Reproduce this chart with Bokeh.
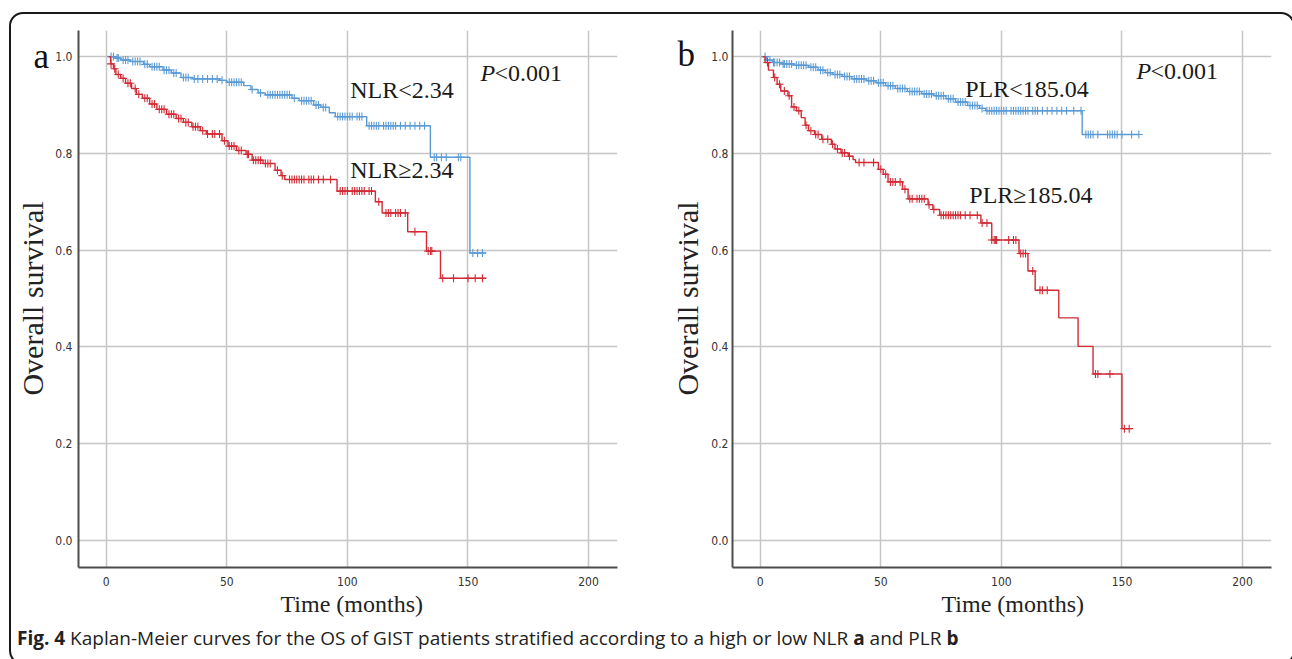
import numpy as np
from bokeh.plotting import figure
from bokeh.models import FixedTicker, PrintfTickFormatter, Title, Div, Range1d
from bokeh.layouts import row, column
from bokeh.core.properties import value
from bokeh.embed import file_html
from bokeh.resources import INLINE

# ---------------- data ----------------
x_ticks = [0, 50, 100, 150, 200]
y_ticks = [0.0, 0.2, 0.4, 0.6, 0.8, 1.0]

# Panel a : NLR
nlr_low_t = [1, 4, 6, 10, 15.5, 18, 23.5, 27, 31, 36, 47, 50, 57, 60, 63, 66, 77, 80, 86, 89, 92.5, 95, 108, 134.4, 150.8]
nlr_low_s = [1.0, 0.997, 0.993, 0.990, 0.984, 0.979, 0.972, 0.966, 0.957, 0.954, 0.951, 0.947, 0.940, 0.932, 0.925,
             0.921, 0.914, 0.909, 0.900, 0.895, 0.884, 0.876, 0.857, 0.792, 0.594]
nlr_low_end = 157.5
nlr_low_cens = [2, 3, 4.5, 5, 7, 8, 9, 11, 12, 13, 14, 16, 17, 19, 20, 21, 22, 24, 25, 26, 28, 29, 32, 33, 34, 36.5, 38,
                40, 42, 44, 46, 48, 51, 52, 53, 54, 55, 56, 60.5, 64, 67, 68, 69, 70, 71, 72, 73, 74, 75, 76, 78, 81, 82,
                83, 84, 85, 87, 88, 90, 91, 96, 97, 98, 99, 100, 101, 102, 104, 105, 106, 109, 110, 111, 112, 113, 115,
                116, 117, 118, 119, 120, 122, 124, 126, 128, 130, 132, 136, 137, 139, 141, 146, 147, 152, 154, 156]

nlr_high_t = [1, 1.8, 3, 4, 6, 8, 10.5, 12.5, 15, 18, 21, 25, 29, 32, 35.5, 39, 41.5, 48, 50.5, 54, 58, 60.5, 65, 70,
              72.5, 74, 95.7, 111.6, 114.4, 125, 132.8, 138.6]
nlr_high_s = [1.0, 0.985, 0.975, 0.963, 0.955, 0.945, 0.934, 0.922, 0.914, 0.902, 0.891, 0.881, 0.872, 0.864, 0.855,
              0.847, 0.840, 0.826, 0.815, 0.806, 0.798, 0.786, 0.779, 0.765, 0.754, 0.746, 0.722, 0.700, 0.677, 0.638,
              0.598, 0.542]
nlr_high_end = 157.5
nlr_high_cens = [2, 3.5, 5, 7, 9, 10, 12, 13.5, 16, 17, 19, 20, 22, 23, 24, 26, 27, 28, 30, 31, 33, 34, 36, 37, 38, 40,
                 42, 44, 45, 47, 49, 51, 52, 53, 55, 56, 58.5, 59, 61, 62, 63, 64, 66, 67, 68, 71, 73, 76, 77, 78, 79,
                 80, 81, 82, 84, 85, 86, 88, 90, 93, 97, 98, 99, 100, 102, 103, 104, 105, 106, 107, 109, 110, 113, 116,
                 117, 118, 120, 121, 122, 124, 128, 133.5, 134.5, 135, 139.5, 144, 150, 153, 156]

# Panel b : PLR
plr_low_t = [1, 2.5, 5, 9, 14, 20, 24, 27, 30, 34, 38, 44, 48, 52, 56, 61, 67, 72, 77, 81, 86, 91, 93.5, 133.5]
plr_low_s = [1.0, 0.993, 0.988, 0.985, 0.982, 0.978, 0.972, 0.967, 0.963, 0.959, 0.954, 0.950, 0.946, 0.940, 0.934,
             0.928, 0.923, 0.919, 0.913, 0.906, 0.899, 0.893, 0.888, 0.839]
plr_low_end = 157
plr_low_cens = [2, 3, 4, 5.5, 6, 7, 8, 9.5, 10, 11, 12, 13, 15, 16, 17, 18, 19, 21, 22, 23, 25, 26, 28, 29, 31, 32, 33,
                35, 36, 37, 39, 40, 41, 42, 43, 45, 46, 47, 49, 50, 51, 53, 54, 55, 57, 58, 59, 60, 62, 63, 64, 65, 66,
                68, 69, 70, 71, 73, 74, 75, 76, 78, 79, 80, 82, 83, 84, 85, 87, 88, 89, 90, 92, 94, 95, 96, 97, 98, 99,
                100, 101, 102, 104, 105, 106, 107, 108, 109, 110, 111, 113, 114, 115, 117, 119, 121, 123, 125, 127, 130,
                133, 135, 136, 137, 138, 140, 144, 145, 146, 147, 148, 150, 154, 157]

plr_high_t = [1, 2, 3.4, 5.5, 7, 8.5, 11.5, 13, 15, 17, 18.6, 20, 22.5, 25.5, 29.5, 31, 33.5, 36.5, 38.5, 39.5, 49, 51,
              53, 59, 61.3, 69.6, 71.6, 74.4, 91.5, 96, 107.3, 111, 114, 123.8, 131.8, 138, 150]
plr_high_s = [1.0, 0.988, 0.972, 0.957, 0.943, 0.929, 0.919, 0.896, 0.888, 0.874, 0.858, 0.847, 0.839, 0.829, 0.819,
              0.809, 0.801, 0.794, 0.787, 0.781, 0.767, 0.757, 0.741, 0.726, 0.706, 0.694, 0.684, 0.672, 0.656, 0.621,
              0.593, 0.557, 0.517, 0.460, 0.401, 0.344, 0.231]
plr_high_end = 154
plr_high_cens = [3, 6, 8, 10, 12, 14, 16, 19, 21, 23, 24, 26, 28, 30, 32, 34, 35, 37, 41, 43, 47, 50, 52, 54, 55, 56, 58,
                 60, 62, 63, 65, 66, 67, 68, 70, 72, 75, 76, 77, 78, 79, 80, 81, 82, 83, 85, 87, 90, 92, 94, 96, 97,
                 97.5, 98, 103, 105, 106, 108, 109, 110, 113, 116, 117, 119, 139, 140, 145, 151, 153]

BLUE = "#5b9bd5"
RED = "#d22b36"
SERIF = "'Liberation Serif', 'Times New Roman', serif"
NARROW = "'Liberation Sans Narrow', 'Arial Narrow', 'DejaVu Sans Condensed', sans-serif"
FIG_H = 609
Y_RANGE = (-0.056, 1.054)
X_RANGE = (-11.5, 212)
BORDER_TOP, BORDER_BOTTOM = 16, 56


def step_value(t_arr, s_arr, t):
    idx = np.searchsorted(np.asarray(t_arr), t, side="right") - 1
    return np.asarray(s_arr)[np.clip(idx, 0, len(s_arr) - 1)]


def add_curve(p, t_arr, s_arr, t_end, cens, color):
    xs = list(t_arr) + [t_end]
    ys = list(s_arr) + [s_arr[-1]]
    p.step(xs, ys, mode="after", line_color=color, line_width=1.4)
    cy = step_value(t_arr, s_arr, np.asarray(cens))
    p.scatter(cens, cy, marker="cross", size=8, line_color=color, line_width=1.1)


def make_side(width, letter, letter_x, letter_y, label_x):
    """Narrow strip (same vertical scale as the panel) holding the panel letter and the y-axis title."""
    s = figure(width=width, height=FIG_H, output_backend="svg", toolbar_location=None,
               x_range=Range1d(0, width), y_range=Range1d(*Y_RANGE),
               x_axis_location=None, y_axis_location=None,
               min_border_left=0, min_border_right=0,
               min_border_top=BORDER_TOP, min_border_bottom=BORDER_BOTTOM)
    s.grid.visible = False
    s.outline_line_color = None
    s.background_fill_color = None
    s.border_fill_color = None
    s.text(x=[letter_x], y=[letter_y], text=[letter], text_font=value(SERIF), text_font_size="35px",
           text_color="#111111", text_baseline="alphabetic", text_align="left")
    s.text(x=[label_x], y=[0.5], text=["Overall survival"], angle=np.pi / 2, text_font=value(SERIF),
           text_font_size="30px", text_color="#222222", text_baseline="middle", text_align="center")
    return s


def make_panel(width, border_right, tick_standoff, title_offset):
    p = figure(width=width, height=FIG_H, output_backend="svg", toolbar_location=None,
               x_range=Range1d(*X_RANGE), y_range=Range1d(*Y_RANGE),
               min_border_left=27, min_border_right=border_right,
               min_border_top=BORDER_TOP, min_border_bottom=BORDER_BOTTOM)
    p.outline_line_color = None
    p.background_fill_color = "white"
    p.border_fill_color = None
    p.xaxis.ticker = FixedTicker(ticks=x_ticks)
    p.yaxis.ticker = FixedTicker(ticks=y_ticks)
    p.xgrid.ticker = FixedTicker(ticks=x_ticks)
    p.ygrid.ticker = FixedTicker(ticks=y_ticks)
    p.yaxis.formatter = PrintfTickFormatter(format="%.1f")
    p.grid.grid_line_color = "#c6c6c6"
    p.grid.grid_line_width = 1.5
    for ax in (p.xaxis, p.yaxis):
        ax.axis_line_color = "#4d4d4d"
        ax.axis_line_width = 2
        ax.major_tick_line_color = None
        ax.minor_tick_line_color = None
        ax.major_tick_out = 0
        ax.major_tick_in = 0
        ax.major_label_text_font = NARROW
        ax.major_label_text_font_size = "12px"
        ax.major_label_text_color = "#333333"
    p.xaxis.major_label_standoff = 9
    p.yaxis.major_label_standoff = tick_standoff
    p.add_layout(Title(text="Time (months)", align="left", offset=title_offset, text_font=SERIF,
                       text_font_size="24px", text_font_style="normal", text_color="#222222",
                       standoff=0), "below")
    return p


txt = dict(text_font=value(SERIF), text_font_size="24px", text_color="#1a1a1a", text_baseline="middle")

side_a = make_side(40, "a", 22, 1.0, 21)
pa = make_panel(589, 23, 6, 202)
add_curve(pa, nlr_low_t, nlr_low_s, nlr_low_end, nlr_low_cens, BLUE)
add_curve(pa, nlr_high_t, nlr_high_s, nlr_high_end, nlr_high_cens, RED)
pa.text(x=[101.2], y=[0.930], text=["NLR<2.34"], **txt)
pa.text(x=[101.2], y=[0.765], text=["NLR\u22652.34"], **txt)
pa.text(x=[155.2], y=[0.967], text=["P"], text_font_style="italic", **txt)
pa.text(x=[161.0], y=[0.967], text=["<0.001"], **txt)

side_b = make_side(65, "b", 37, 1.004, 47)
pb = make_panel(578, 12, 4, 209)
add_curve(pb, plr_low_t, plr_low_s, plr_low_end, plr_low_cens, BLUE)
add_curve(pb, plr_high_t, plr_high_s, plr_high_end, plr_high_cens, RED)
pb.text(x=[85.0], y=[0.933], text=["PLR<185.04"], **txt)
pb.text(x=[86.7], y=[0.713], text=["PLR\u2265185.04"], **txt)
pb.text(x=[156.0], y=[0.970], text=["P"], text_font_style="italic", **txt)
pb.text(x=[161.8], y=[0.970], text=["<0.001"], **txt)

cap = Div(text='<b>Fig. 4</b> Kaplan-Meier curves for the OS of GIST patients stratified according to a high or low NLR <b>a</b> and PLR <b>b</b>',
          width=1272, height=30,
          styles={"font-family": "'Open Sans', sans-serif", "font-size": "19px", "color": "#222222",
                  "padding-left": "1px", "padding-top": "0px", "line-height": "20px", "white-space": "nowrap"})

layout = column(row(side_a, pa, side_b, pb), cap, margin=(12, 0, 0, 9),
                styles={"border": "2px solid #1a1a1a", "border-radius": "14px", "background-color": "white"})

open("out.html", "w").write(file_html(layout, INLINE))
